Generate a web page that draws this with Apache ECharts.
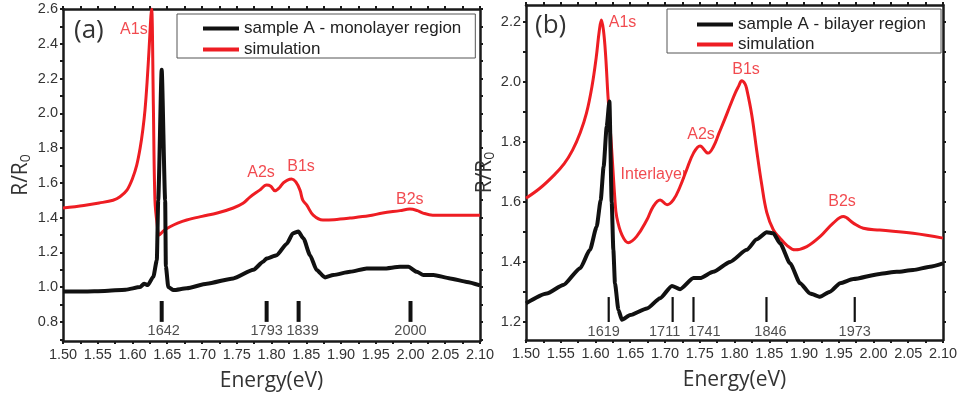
<!DOCTYPE html>
<html>
<head>
<meta charset="utf-8">
<script src="https://cdn.jsdelivr.net/npm/echarts@6/dist/echarts.min.js"></script>
<style>
html,body{margin:0;padding:0;background:#fff;}
#chart{width:964px;height:401px;}
</style>
</head>
<body>
<div id="chart"></div>
<script>
// ---------- Panel (a): monolayer ----------
const energyRedA = [1.500, 1.530, 1.552, 1.572, 1.582, 1.592, 1.600, 1.606, 1.611, 1.615, 1.618, 1.621, 1.624, 1.6265, 1.6276, 1.630, 1.6323, 1.6355, 1.6386, 1.645, 1.654, 1.665, 1.678, 1.700, 1.722, 1.745, 1.759, 1.769, 1.783, 1.793, 1.799, 1.805, 1.811, 1.817, 1.823, 1.829, 1.835, 1.841, 1.845, 1.851, 1.860, 1.874, 1.890, 1.913, 1.940, 1.960, 1.985, 1.999, 2.010, 2.018, 2.032, 2.060, 2.100];
const valueRedA  = [1.455, 1.470, 1.484, 1.500, 1.520, 1.558, 1.625, 1.700, 1.800, 1.910, 2.020, 2.180, 2.380, 2.560, 2.600, 2.050, 1.500, 1.360, 1.300, 1.325, 1.347, 1.368, 1.386, 1.407, 1.426, 1.455, 1.482, 1.518, 1.558, 1.587, 1.580, 1.554, 1.570, 1.600, 1.616, 1.622, 1.605, 1.558, 1.500, 1.470, 1.414, 1.386, 1.388, 1.397, 1.410, 1.426, 1.440, 1.449, 1.440, 1.426, 1.414, 1.414, 1.414];

const energyExpA = [1.500, 1.530, 1.560, 1.590, 1.611, 1.6166, 1.622, 1.630, 1.635, 1.637, 1.642, 1.647, 1.648, 1.6515, 1.659, 1.678, 1.707, 1.745, 1.774, 1.788, 1.793, 1.8075, 1.822, 1.831, 1.8386, 1.846, 1.8554, 1.865, 1.877, 1.889, 1.913, 1.937, 1.961, 1.985, 1.997, 2.009, 2.0185, 2.033, 2.057, 2.081, 2.100];
const valueExpA  = [0.975, 0.975, 0.978, 0.985, 1.000, 1.020, 1.012, 1.060, 1.155, 1.500, 2.250, 1.500, 1.120, 1.000, 0.983, 0.993, 1.020, 1.050, 1.100, 1.146, 1.165, 1.184, 1.250, 1.310, 1.320, 1.280, 1.184, 1.098, 1.056, 1.070, 1.088, 1.107, 1.107, 1.117, 1.117, 1.088, 1.070, 1.070, 1.050, 1.030, 1.010];

const markersA = [1642, 1793, 1839, 2000];          // meV
const peakNamesA = ['A1s', 'A2s', 'B1s', 'B2s'];
const peakAtA = [[1.602, 2.479], [1.785, 1.656], [1.8425, 1.696], [1.999, 1.506]];

// ---------- Panel (b): bilayer ----------
const energyRedB = [1.500, 1.520, 1.540, 1.555, 1.567, 1.578, 1.587, 1.595, 1.601, 1.6055, 1.6085, 1.6115, 1.6145, 1.618, 1.6233, 1.628, 1.6305, 1.638, 1.647, 1.659, 1.674, 1.683, 1.693, 1.703, 1.712, 1.7216, 1.731, 1.741, 1.7504, 1.762, 1.770, 1.778, 1.786, 1.794, 1.801, 1.806, 1.8104, 1.815, 1.8176, 1.8248, 1.832, 1.839, 1.8464, 1.856, 1.8655, 1.875, 1.887, 1.904, 1.923, 1.942, 1.9566, 1.971, 1.9854, 2.009, 2.057, 2.100];
const valueRedB  = [1.612, 1.645, 1.688, 1.727, 1.772, 1.830, 1.895, 1.985, 2.080, 2.170, 2.205, 2.170, 2.090, 1.950, 1.773, 1.606, 1.550, 1.490, 1.464, 1.484, 1.540, 1.584, 1.606, 1.590, 1.606, 1.650, 1.706, 1.762, 1.786, 1.762, 1.785, 1.830, 1.875, 1.922, 1.962, 1.985, 2.003, 1.993, 1.975, 1.890, 1.770, 1.660, 1.565, 1.506, 1.479, 1.456, 1.440, 1.451, 1.484, 1.529, 1.551, 1.529, 1.512, 1.506, 1.495, 1.479];

const energyExpB = [1.500, 1.5298, 1.5537, 1.578, 1.592, 1.6017, 1.6075, 1.6117, 1.6161, 1.620, 1.6233, 1.6257, 1.628, 1.633, 1.638, 1.650, 1.674, 1.693, 1.710, 1.7216, 1.741, 1.7504, 1.7695, 1.7936, 1.8176, 1.832, 1.8464, 1.856, 1.8655, 1.880, 1.8943, 1.9087, 1.923, 1.9375, 1.952, 1.971, 2.009, 2.0335, 2.057, 2.0813, 2.100];
const valueExpB  = [1.262, 1.295, 1.323, 1.379, 1.440, 1.517, 1.606, 1.717, 1.850, 1.934, 1.600, 1.440, 1.329, 1.240, 1.207, 1.223, 1.245, 1.279, 1.320, 1.309, 1.346, 1.346, 1.367, 1.400, 1.440, 1.475, 1.499, 1.495, 1.462, 1.395, 1.329, 1.295, 1.284, 1.301, 1.329, 1.343, 1.360, 1.367, 1.373, 1.384, 1.395];

const markersB = [1619, 1711, 1741, 1846, 1973];    // meV
const peakNamesB = ['A1s', 'A2s', 'B1s', 'Interlayer', 'B2s'];
const peakAtB = [[1.6389, 2.196], [1.7518, 1.823], [1.8166, 2.039], [1.684, 1.689], [1.9547, 1.602]];

// ---------- tick labels ----------
const xTickLabels = ['1.50','1.55','1.60','1.65','1.70','1.75','1.80','1.85','1.90','1.95','2.00','2.05','2.10'];
const yTickLabelsA = ['0.8','1.0','1.2','1.4','1.6','1.8','2.0','2.2','2.4','2.6'];
const yTickLabelsB = ['1.2','1.4','1.6','1.8','2.0','2.2'];

// ---------- build ----------
const zip = (xs, ys) => xs.map((x, i) => [x, ys[i]]);
const num = a => a.map(Number);
function fineTicks(lo, hi, step) {
  const out = [];
  const n = Math.round((hi - lo) / step);
  for (let i = 0; i <= n; i++) out.push(+(lo + i * step).toFixed(4));
  return out;
}
const xMinor = fineTicks(1.5, 2.1, 0.025);
const yMinorA = fineTicks(0.7, 2.6, 0.1);
const yMinorB = fineTicks(1.2, 2.2, 0.1);

// pixel nudges for the marker labels (style only)
const labelNudge = {1642: 2, 1839: 4, 1619: -5, 1711: -8, 1741: 11, 1846: 4};

const RED = '#ee1d23';
const AX = '#1a1a1a';
const FONT = '"Liberation Sans", Arial, sans-serif';
const TFONT = '"Open Sans", sans-serif';

const grids = [
  {left: 63, top: 9, width: 417, height: 332},
  {left: 526, top: 5, width: 417, height: 335}
];

function xAxes(gi) {
  const base = {
    type: 'value', gridIndex: gi, min: 1.5, max: 2.1,
    splitLine: {show: false},
    axisLine: {show: true, onZero: false, lineStyle: {color: AX, width: 2.5}},
    axisTick: {show: true, customValues: xMinor, length: 3, lineStyle: {color: AX, width: 2}}
  };
  return [
    Object.assign({}, base, {
      position: 'bottom',
      axisLabel: {customValues: num(xTickLabels), formatter: v => v.toFixed(2), fontFamily: FONT, fontSize: 14.5, color: '#333', margin: 6},
      name: 'Energy(eV)', nameLocation: 'middle', nameGap: 30,
      nameTextStyle: {fontFamily: TFONT, fontSize: 21, color: '#333'}
    }),
    Object.assign({}, base, {position: 'top', axisLabel: {show: false}})
  ];
}
function yAxes(gi, min, max, minor, labels) {
  const base = {
    type: 'value', gridIndex: gi, min: min, max: max,
    splitLine: {show: false},
    axisLine: {show: true, onZero: false, lineStyle: {color: AX, width: 2.5}},
    axisTick: {show: true, customValues: minor, length: 3, lineStyle: {color: AX, width: 2}}
  };
  return [
    Object.assign({}, base, {
      position: 'left',
      axisLabel: {customValues: num(labels), formatter: v => v.toFixed(1), fontFamily: FONT, fontSize: 14.5, color: '#333', margin: 5},
      name: 'R/R{sub|0}', nameLocation: 'middle', nameGap: gi === 0 ? 31 : 26, nameRotate: 90,
      nameTextStyle: {fontFamily: TFONT, fontSize: 21, color: '#333',
        rich: {sub: {fontFamily: TFONT, fontSize: 14, color: '#333', padding: [0, 0, -9, 0]}}}
    }),
    Object.assign({}, base, {position: 'right', axisLabel: {show: false}})
  ];
}

function markerSeries(gi, list, y0, y1, ylab, width) {
  const out = [];
  list.forEach(m => {
    const e = m / 1000;
    out.push({
      type: 'line', xAxisIndex: gi * 2, yAxisIndex: gi * 2, silent: true,
      data: [[e, y0], [e, y1]], showSymbol: false, symbol: 'none',
      lineStyle: {color: '#111', width: width}, z: 3
    });
  });
  out.push({
    type: 'scatter', xAxisIndex: gi * 2, yAxisIndex: gi * 2, silent: true,
    symbolSize: 1, itemStyle: {color: 'rgba(0,0,0,0)'},
    data: list.map(m => ({value: [m / 1000, ylab], name: String(m), label: {offset: [labelNudge[m] || 0, 0]}})),
    label: {show: true, position: 'inside', formatter: p => p.name, fontFamily: FONT, fontSize: 14.5, color: '#222'},
    z: 4
  });
  return out;
}
function peakLabels(gi, names, at) {
  return {
    type: 'scatter', xAxisIndex: gi * 2, yAxisIndex: gi * 2, silent: true,
    symbolSize: 1, itemStyle: {color: 'rgba(0,0,0,0)'},
    data: names.map((n, i) => ({value: at[i], name: n})),
    label: {show: true, position: 'inside', formatter: p => p.name, fontFamily: FONT, fontSize: 16, color: RED},
    z: 5
  };
}

const legendBase = {
  orient: 'vertical', icon: 'rect', itemWidth: 36, itemHeight: 4,
  borderColor: '#555', borderWidth: 1, backgroundColor: '#fff',
  textStyle: {fontFamily: FONT, fontSize: 17, color: '#222', lineHeight: 17}
};

const option = {
  animation: false,
  backgroundColor: '#fff',
  grid: grids,
  xAxis: xAxes(0).concat(xAxes(1)),
  yAxis: yAxes(0, 0.69, 2.6, yMinorA, yTickLabelsA).concat(yAxes(1, 1.14, 2.255, yMinorB, yTickLabelsB)),
  legend: [
    Object.assign({}, legendBase, {left: 177, top: 14, itemGap: 4, padding: [6, 14, 0, 26], data: ['sample A - monolayer region', 'simulation']}),
    Object.assign({}, legendBase, {left: 667, top: 9, itemGap: 3, padding: [7, 15, 0, 30], data: ['sample A - bilayer region', 'simulation']})
  ],
  graphic: [
    {type: 'text', left: 74, top: 18, style: {text: '(a)', font: '26px "Open Sans", sans-serif', fill: '#333'}},
    {type: 'text', left: 535, top: 13, style: {text: '(b)', font: '26px "Open Sans", sans-serif', fill: '#333'}}
  ],
  series: [
    {name: 'simulation', type: 'line', xAxisIndex: 0, yAxisIndex: 0, data: zip(energyRedA, valueRedA),
      showSymbol: false, symbol: 'none', smooth: 0.35, lineStyle: {color: RED, width: 3, join: 'round'}, itemStyle: {color: RED}, z: 2},
    {name: 'sample A - monolayer region', type: 'line', xAxisIndex: 0, yAxisIndex: 0, data: zip(energyExpA, valueExpA),
      showSymbol: false, symbol: 'none', smooth: 0.2, smoothMonotone: 'x', lineStyle: {color: '#111', width: 4, join: 'round'}, itemStyle: {color: '#111'}, z: 3},
    {name: 'simulation', type: 'line', xAxisIndex: 2, yAxisIndex: 2, data: zip(energyRedB, valueRedB),
      showSymbol: false, symbol: 'none', smooth: 0.4, lineStyle: {color: RED, width: 3, join: 'round'}, itemStyle: {color: RED}, z: 2},
    {name: 'sample A - bilayer region', type: 'line', xAxisIndex: 2, yAxisIndex: 2, data: zip(energyExpB, valueExpB),
      showSymbol: false, symbol: 'none', smooth: 0.2, smoothMonotone: 'x', lineStyle: {color: '#111', width: 4, join: 'round'}, itemStyle: {color: '#111'}, z: 3}
  ]
    .concat(markerSeries(0, markersA, 0.80, 0.92, 0.746, 4))
    .concat(markerSeries(1, markersB, 1.20, 1.283, 1.167, 2.2))
    .concat([peakLabels(0, peakNamesA, peakAtA), peakLabels(1, peakNamesB, peakAtB)])
};

const chart = echarts.init(document.getElementById('chart'), null, {renderer: 'canvas'});
chart.setOption(option);
</script>
</body>
</html>
